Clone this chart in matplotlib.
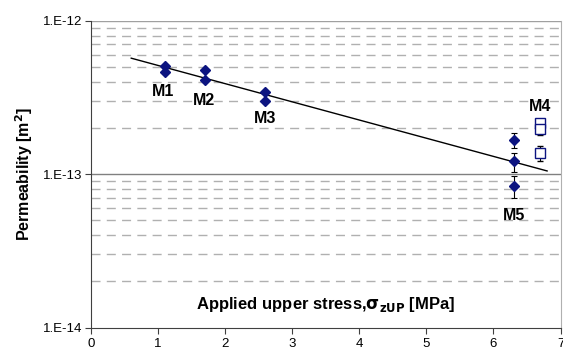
import numpy as np
import matplotlib
matplotlib.use("Agg")
import matplotlib.pyplot as plt
from matplotlib.ticker import FixedLocator, FuncFormatter, NullFormatter

plt.rcParams['font.family'] = ['Liberation Sans', 'DejaVu Sans']

NAVY = "#0c1480"

# Measured permeabilities [m^2] vs applied upper stress [MPa]
m1_x = [1.1, 1.1]
m1_k = [5.10e-13, 4.65e-13]
m2_x = [1.7, 1.7]
m2_k = [4.80e-13, 4.10e-13]
m3_x = [2.6, 2.6]
m3_k = [3.45e-13, 2.98e-13]
m5_x = [6.3, 6.3, 6.3]
m5_k = [1.67e-13, 1.21e-13, 8.4e-14]
m5_err = [0.18e-13, 0.17e-13, 0.14e-13]
# M4 plotted as open squares
m4_x = [6.7, 6.7, 6.7]
m4_k = [2.17e-13, 1.96e-13, 1.37e-13]
m4_err = [0.12e-13, 0.15e-13, 0.15e-13]

# exponential trend line end points
trend_x = [0.6, 6.8]
trend_k = [5.7e-13, 1.05e-13]

labels = ["M1", "M2", "M3", "M4", "M5"]
label_x = [1.08, 1.69, 2.6, 6.7, 6.31]
label_k = [3.45e-13, 3.04e-13, 2.29e-13, 2.78e-13, 5.4e-14]

fig = plt.figure(figsize=(5.63, 3.54), dpi=100)
ax = fig.add_axes([0.1616, 0.0743, 0.834, 0.8672])
ax.set_yscale("log")
ax.set_xlim(0, 7)
ax.set_ylim(1e-14, 1e-12)

# grid: solid at decades, dashed at the minor steps
for k in [1e-13, 1e-12]:
    ax.axhline(k, color="#808080" if k == 1e-13 else "#a0a0a0", lw=1.0, zorder=1)
for dec in [1e-14, 1e-13]:
    for m in range(2, 10):
        ax.axhline(m * dec, color="#b0b0b0", lw=1.0, dashes=(6.5, 4.5), zorder=1)

ax.plot(trend_x, trend_k, color="black", lw=1.0, zorder=3)

for xs, ks in [(m1_x, m1_k), (m2_x, m2_k), (m3_x, m3_k)]:
    ax.plot(xs, ks, linestyle="none", marker="D", ms=5.5, color=NAVY, zorder=4)
ax.errorbar(m5_x, m5_k, yerr=m5_err, fmt="D", ms=5.5, color=NAVY,
            ecolor="black", elinewidth=0.8, capsize=2.5, capthick=0.8, zorder=4)
ax.errorbar(m4_x, m4_k, yerr=m4_err, fmt="s", ms=7, mfc="white", mec=NAVY,
            mew=1.0, ecolor="black", elinewidth=0.8, capsize=2.5, capthick=0.8, zorder=4)

for t, x, k in zip(labels, label_x, label_k):
    ax.text(x, k, t, ha="center", va="center", fontsize=11.5, fontweight="bold", zorder=5)

ax.text(0.5, 0.074, r"Applied upper stress,$\mathbf{\sigma_{zUP}}$ [MPa]",
        transform=ax.transAxes, ha="center", va="center", fontsize=12, fontweight="bold")
ax.set_ylabel("Permeability [m$^\\mathbf{2}$]", fontsize=11.5, fontweight="bold", labelpad=6)

ax.yaxis.set_major_locator(FixedLocator([1e-14, 1e-13, 1e-12]))
ax.yaxis.set_major_formatter(FuncFormatter(lambda v, p: "1.E%d" % round(np.log10(v))))
ax.yaxis.set_minor_locator(FixedLocator([]))
ax.yaxis.set_minor_formatter(NullFormatter())
ax.set_xticks(range(0, 8))
ax.tick_params(axis="both", labelsize=9.5, direction="out", length=4, width=0.8, color="#404040")
ax.tick_params(axis="y", pad=2)

for side in ["top"]:
    ax.spines[side].set_visible(False)
ax.spines["right"].set_color("#b0b0b0")
ax.spines["left"].set_color("#404040")
ax.spines["bottom"].set_color("#404040")

fig.savefig("out.png", dpi=100)
